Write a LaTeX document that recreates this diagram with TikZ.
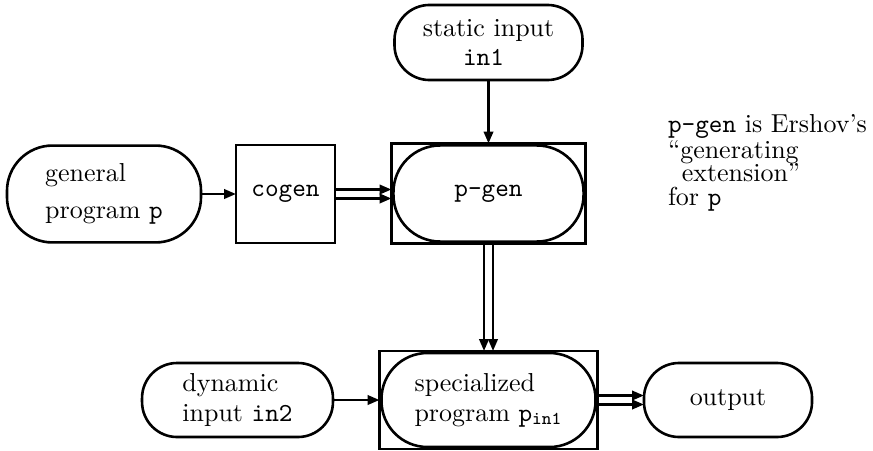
\documentclass[tikz,border=0pt]{standalone}
\usetikzlibrary{arrows.meta}
\begin{document}
\begin{tikzpicture}[x=0.385pt,y=-0.385pt,
  every node/.style={inner sep=0pt,outer sep=0pt},
  line width=1pt,
  stadium/.style={draw,rounded corners=#1,align=left},
  stadium/.default=15pt,
  boxed/.style={draw,rectangle},
  arr/.style={-{Triangle[length=4.6pt,width=3.6pt]}},
  txt/.style={font=\fontsize{10}{11.5}\selectfont}
]
\useasboundingbox (0,0) rectangle (873,450);

% nodes
\node[stadium=13.5pt,txt,minimum width=72.4pt,minimum height=28.9pt] (static) at (488.5,42.5) {static input\\\hspace*{15.5pt}\texttt{in1}};
\node[stadium=17.5pt,font=\fontsize{10}{14.4}\selectfont,minimum width=74.7pt,minimum height=37.3pt] (gen) at (104,194) {general\\program \texttt{p}};
\node[boxed,minimum width=38.1pt,minimum height=37.7pt] (cogen) at (285.5,194) {\texttt{cogen}};
\node[boxed,minimum width=74.7pt,minimum height=38.5pt] (pgenbox) at (488.5,193.5) {};
\node[stadium=18pt,minimum width=73.2pt,minimum height=37pt] (pgen) at (488.5,193.5) {\texttt{p-gen}};
\node[boxed,minimum width=83.9pt,minimum height=37.7pt] (spbox) at (488.5,400) {};
\node[stadium=17.7pt,txt,minimum width=82.4pt,minimum height=36.2pt] (sp) at (488.5,400) {specialized\\program $\mathtt{p}_{\mathtt{in1}}$};
\node[stadium=13.5pt,txt,minimum width=73.5pt,minimum height=28.5pt] (dyn) at (237.5,400) {dynamic\\input \texttt{in2}};
\node[stadium=13.5pt,minimum width=64.7pt,minimum height=28.5pt] (out) at (728,400) {output};
\node[anchor=north west,align=left,font=\fontsize{10}{9}\selectfont] (note) at (668,114)
  {\texttt{p-gen} is Ershov's\\``generating\\\hspace*{5.3pt}extension''\\for \texttt{p}};

% connectors
\draw[arr] (static.south) -- (pgenbox.north);
\draw[arr] (gen.east) -- (cogen.west);
\draw[arr] ([yshift=1.73pt]cogen.east) -- ([yshift=1.73pt]cogen.east -| pgenbox.west);
\draw[arr] ([yshift=-1.73pt]cogen.east) -- ([yshift=-1.73pt]cogen.east -| pgenbox.west);
\draw[arr] ([xshift=-1.73pt]pgenbox.south) -- ([xshift=-1.73pt]spbox.north);
\draw[arr] ([xshift=1.73pt]pgenbox.south) -- ([xshift=1.73pt]spbox.north);
\draw[arr] (dyn.east) -- (spbox.west);
\draw[arr] ([yshift=1.73pt]spbox.east) -- ([yshift=1.73pt]out.west);
\draw[arr] ([yshift=-1.73pt]spbox.east) -- ([yshift=-1.73pt]out.west);
\end{tikzpicture}
\end{document}
